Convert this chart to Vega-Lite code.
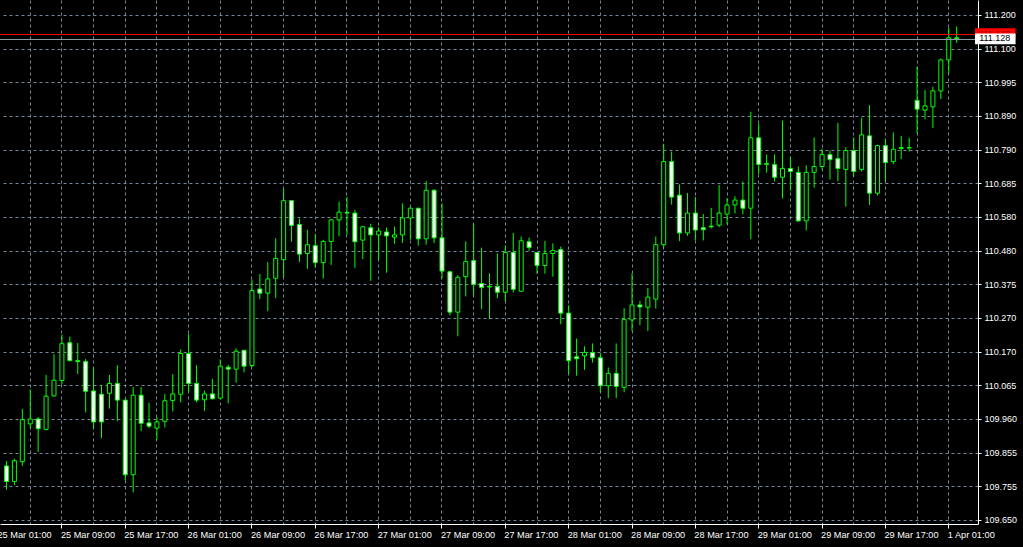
{
  "$schema": "https://vega.github.io/schema/vega-lite/v6.json",
  "width": 978,
  "height": 524,
  "autosize": {"type": "none"},
  "padding": {"left": 0, "top": 0, "right": 45, "bottom": 23},
  "background": "#000000",
  "config": {"view": {"stroke": null}},
  "data": {"values": [
    {"i":1,"o":109.816,"h":109.831,"l":109.743,"c":109.768},
    {"i":2,"o":109.768,"h":109.838,"l":109.757,"c":109.832},
    {"i":3,"o":109.829,"h":109.991,"l":109.816,"c":109.958},
    {"i":4,"o":109.945,"h":110.051,"l":109.932,"c":109.960},
    {"i":5,"o":109.960,"h":109.966,"l":109.859,"c":109.930},
    {"i":6,"o":109.928,"h":110.095,"l":109.925,"c":110.030},
    {"i":7,"o":110.031,"h":110.159,"l":110.029,"c":110.079},
    {"i":8,"o":110.078,"h":110.219,"l":110.066,"c":110.191},
    {"i":9,"o":110.194,"h":110.213,"l":110.137,"c":110.139},
    {"i":10,"o":110.139,"h":110.193,"l":110.098,"c":110.136},
    {"i":11,"o":110.136,"h":110.144,"l":109.980,"c":110.045},
    {"i":12,"o":110.046,"h":110.118,"l":109.930,"c":109.951},
    {"i":13,"o":110.036,"h":110.063,"l":109.901,"c":109.951},
    {"i":14,"o":110.039,"h":110.095,"l":109.992,"c":110.069},
    {"i":15,"o":110.069,"h":110.125,"l":109.953,"c":110.018},
    {"i":16,"o":110.018,"h":110.019,"l":109.771,"c":109.789},
    {"i":17,"o":109.789,"h":110.058,"l":109.735,"c":110.033},
    {"i":18,"o":110.033,"h":110.058,"l":109.923,"c":109.947},
    {"i":19,"o":109.948,"h":110.010,"l":109.931,"c":109.938},
    {"i":20,"o":109.932,"h":109.966,"l":109.897,"c":109.951},
    {"i":21,"o":109.953,"h":110.037,"l":109.934,"c":110.016},
    {"i":22,"o":110.017,"h":110.098,"l":109.983,"c":110.037},
    {"i":23,"o":110.036,"h":110.174,"l":110.011,"c":110.161},
    {"i":24,"o":110.161,"h":110.221,"l":110.044,"c":110.069},
    {"i":25,"o":110.069,"h":110.125,"l":110.011,"c":110.018},
    {"i":26,"o":110.019,"h":110.047,"l":109.984,"c":110.037},
    {"i":27,"o":110.037,"h":110.083,"l":110.020,"c":110.022},
    {"i":28,"o":110.024,"h":110.143,"l":110.020,"c":110.122},
    {"i":29,"o":110.119,"h":110.126,"l":110.008,"c":110.113},
    {"i":30,"o":110.113,"h":110.177,"l":110.072,"c":110.168},
    {"i":31,"o":110.171,"h":110.172,"l":110.103,"c":110.122},
    {"i":32,"o":110.124,"h":110.388,"l":110.119,"c":110.354},
    {"i":33,"o":110.359,"h":110.405,"l":110.328,"c":110.346},
    {"i":34,"o":110.346,"h":110.442,"l":110.291,"c":110.390},
    {"i":35,"o":110.392,"h":110.515,"l":110.331,"c":110.453},
    {"i":36,"o":110.449,"h":110.666,"l":110.395,"c":110.630},
    {"i":37,"o":110.630,"h":110.631,"l":110.504,"c":110.554},
    {"i":38,"o":110.557,"h":110.575,"l":110.442,"c":110.466},
    {"i":39,"o":110.468,"h":110.541,"l":110.421,"c":110.495},
    {"i":40,"o":110.492,"h":110.528,"l":110.425,"c":110.440},
    {"i":41,"o":110.440,"h":110.510,"l":110.391,"c":110.505},
    {"i":42,"o":110.505,"h":110.574,"l":110.433,"c":110.571},
    {"i":43,"o":110.571,"h":110.627,"l":110.521,"c":110.595},
    {"i":44,"o":110.594,"h":110.642,"l":110.526,"c":110.592},
    {"i":45,"o":110.592,"h":110.602,"l":110.424,"c":110.504},
    {"i":46,"o":110.509,"h":110.552,"l":110.451,"c":110.550},
    {"i":47,"o":110.547,"h":110.559,"l":110.384,"c":110.525},
    {"i":48,"o":110.525,"h":110.548,"l":110.449,"c":110.537},
    {"i":49,"o":110.534,"h":110.548,"l":110.409,"c":110.522},
    {"i":50,"o":110.518,"h":110.551,"l":110.498,"c":110.525},
    {"i":51,"o":110.525,"h":110.622,"l":110.500,"c":110.577},
    {"i":52,"o":110.577,"h":110.610,"l":110.510,"c":110.607},
    {"i":53,"o":110.607,"h":110.608,"l":110.492,"c":110.513},
    {"i":54,"o":110.513,"h":110.690,"l":110.495,"c":110.662},
    {"i":55,"o":110.662,"h":110.665,"l":110.500,"c":110.516},
    {"i":56,"o":110.516,"h":110.622,"l":110.392,"c":110.414},
    {"i":57,"o":110.412,"h":110.413,"l":110.278,"c":110.288},
    {"i":58,"o":110.288,"h":110.401,"l":110.214,"c":110.395},
    {"i":59,"o":110.397,"h":110.505,"l":110.336,"c":110.443},
    {"i":60,"o":110.446,"h":110.559,"l":110.340,"c":110.373},
    {"i":61,"o":110.376,"h":110.486,"l":110.297,"c":110.364},
    {"i":62,"o":110.367,"h":110.407,"l":110.267,"c":110.365},
    {"i":63,"o":110.367,"h":110.468,"l":110.331,"c":110.349},
    {"i":64,"o":110.349,"h":110.493,"l":110.322,"c":110.471},
    {"i":65,"o":110.471,"h":110.531,"l":110.348,"c":110.358},
    {"i":66,"o":110.352,"h":110.520,"l":110.350,"c":110.507},
    {"i":67,"o":110.504,"h":110.517,"l":110.476,"c":110.486},
    {"i":68,"o":110.471,"h":110.472,"l":110.406,"c":110.431},
    {"i":69,"o":110.431,"h":110.507,"l":110.406,"c":110.468},
    {"i":70,"o":110.468,"h":110.499,"l":110.397,"c":110.477},
    {"i":71,"o":110.480,"h":110.489,"l":110.251,"c":110.285},
    {"i":72,"o":110.285,"h":110.309,"l":110.100,"c":110.139},
    {"i":73,"o":110.151,"h":110.207,"l":110.093,"c":110.145},
    {"i":74,"o":110.154,"h":110.183,"l":110.111,"c":110.164},
    {"i":75,"o":110.164,"h":110.192,"l":110.133,"c":110.148},
    {"i":76,"o":110.148,"h":110.162,"l":110.042,"c":110.062},
    {"i":77,"o":110.062,"h":110.118,"l":110.024,"c":110.100},
    {"i":78,"o":110.100,"h":110.192,"l":110.024,"c":110.060},
    {"i":79,"o":110.057,"h":110.300,"l":110.042,"c":110.265},
    {"i":80,"o":110.264,"h":110.407,"l":110.230,"c":110.310},
    {"i":81,"o":110.310,"h":110.322,"l":110.248,"c":110.304},
    {"i":82,"o":110.303,"h":110.362,"l":110.230,"c":110.334},
    {"i":83,"o":110.328,"h":110.520,"l":110.299,"c":110.495},
    {"i":84,"o":110.495,"h":110.805,"l":110.486,"c":110.750},
    {"i":85,"o":110.750,"h":110.781,"l":110.618,"c":110.641},
    {"i":86,"o":110.647,"h":110.680,"l":110.506,"c":110.531},
    {"i":87,"o":110.531,"h":110.654,"l":110.522,"c":110.592},
    {"i":88,"o":110.592,"h":110.642,"l":110.508,"c":110.540},
    {"i":89,"o":110.547,"h":110.589,"l":110.508,"c":110.541},
    {"i":90,"o":110.552,"h":110.608,"l":110.545,"c":110.550},
    {"i":91,"o":110.555,"h":110.678,"l":110.549,"c":110.592},
    {"i":92,"o":110.589,"h":110.638,"l":110.557,"c":110.617},
    {"i":93,"o":110.617,"h":110.644,"l":110.591,"c":110.632},
    {"i":94,"o":110.632,"h":110.689,"l":110.588,"c":110.607},
    {"i":95,"o":110.607,"h":110.903,"l":110.512,"c":110.823},
    {"i":96,"o":110.823,"h":110.867,"l":110.712,"c":110.741},
    {"i":97,"o":110.744,"h":110.772,"l":110.716,"c":110.742},
    {"i":98,"o":110.741,"h":110.772,"l":110.689,"c":110.702},
    {"i":99,"o":110.702,"h":110.876,"l":110.637,"c":110.729},
    {"i":100,"o":110.729,"h":110.765,"l":110.661,"c":110.720},
    {"i":101,"o":110.717,"h":110.735,"l":110.565,"c":110.568},
    {"i":102,"o":110.568,"h":110.739,"l":110.539,"c":110.717},
    {"i":103,"o":110.717,"h":110.824,"l":110.670,"c":110.735},
    {"i":104,"o":110.735,"h":110.790,"l":110.726,"c":110.772},
    {"i":105,"o":110.772,"h":110.784,"l":110.695,"c":110.756},
    {"i":106,"o":110.759,"h":110.869,"l":110.689,"c":110.729},
    {"i":107,"o":110.726,"h":110.794,"l":110.612,"c":110.784},
    {"i":108,"o":110.784,"h":110.824,"l":110.705,"c":110.720},
    {"i":109,"o":110.726,"h":110.885,"l":110.719,"c":110.832},
    {"i":110,"o":110.829,"h":110.923,"l":110.617,"c":110.653},
    {"i":111,"o":110.653,"h":110.802,"l":110.646,"c":110.799},
    {"i":112,"o":110.799,"h":110.820,"l":110.689,"c":110.747},
    {"i":113,"o":110.750,"h":110.840,"l":110.742,"c":110.788},
    {"i":114,"o":110.790,"h":110.829,"l":110.758,"c":110.793},
    {"i":115,"o":110.792,"h":110.823,"l":110.781,"c":110.793},
    {"i":116,"o":110.938,"h":111.041,"l":110.836,"c":110.911},
    {"i":117,"o":110.908,"h":110.970,"l":110.880,"c":110.921},
    {"i":118,"o":110.918,"h":110.980,"l":110.853,"c":110.967},
    {"i":119,"o":110.967,"h":111.066,"l":110.942,"c":111.062},
    {"i":120,"o":111.062,"h":111.161,"l":111.021,"c":111.130},
    {"i":121,"o":111.130,"h":111.165,"l":111.114,"c":111.128}
  ]},
  "layer": [
    {
      "mark": {"type": "rule", "color": "#00ff00", "strokeWidth": 1, "xOffset": 0.5},
      "encoding": {
        "x": {
          "field": "i", "type": "quantitative",
          "scale": {"domain": [0.875, 123.125], "nice": false, "zero": false},
          "axis": {
            "title": null,
            "tickCount": 60,
            "values": [0.875,4,8,12,16,20,24,28,32,36,40,44,48,52,56,60,64,68,72,76,80,84,88,92,96,100,104,108,112,116,120],
            "grid": true, "gridColor": "#778899", "gridDash": [3, 3], "gridWidth": 1,
            "gridOpacity": {"condition": {"test": "datum.value < 1", "value": 0}, "value": 1},
            "domain": true, "domainColor": "#ffffff", "domainWidth": 1,
            "ticks": true, "tickColor": "#ffffff", "tickSize": 4, "tickWidth": 1,
            "tickOpacity": {"condition": {"test": "datum.value % 8 === 0", "value": 1}, "value": 0},
            "labelExpr": "datum.value < 1 ? '25 Mar 01:00' : (datum.value % 8 === 0 ? ['25 Mar 01:00','25 Mar 09:00','25 Mar 17:00','26 Mar 01:00','26 Mar 09:00','26 Mar 17:00','27 Mar 01:00','27 Mar 09:00','27 Mar 17:00','28 Mar 01:00','28 Mar 09:00','28 Mar 17:00','29 Mar 01:00','29 Mar 09:00','29 Mar 17:00','1 Apr 01:00'][datum.value / 8] : '')",
            "labelColor": "#ffffff", "labelFont": "Liberation Sans", "labelFontSize": 9.2,
            "labelAlign": "left", "labelBaseline": "top", "labelPadding": 2,
            "labelOffset": {"condition": {"test": "datum.value < 1", "value": -8}, "value": -1},
            "labelOverlap": false, "labelBound": false, "labelFlush": false
          }
        },
        "y": {
          "field": "l", "type": "quantitative",
          "scale": {"domain": [109.6377, 111.246], "nice": false, "zero": false},
          "axis": {
            "title": null, "orient": "right",
            "tickCount": 40,
            "values": [109.65, 109.753333, 109.856667, 109.96, 110.063333, 110.166667, 110.27, 110.373333, 110.476667, 110.58, 110.683333, 110.786667, 110.89, 110.993333, 111.096667, 111.2],
            "grid": true, "gridColor": "#778899", "gridDash": [3, 3], "gridWidth": 1,
            "domain": true, "domainColor": "#ffffff", "domainWidth": 1,
            "ticks": true, "tickColor": "#ffffff", "tickSize": 3, "tickWidth": 1,
            "labelExpr": "['109.650','109.755','109.855','109.960','110.065','110.170','110.270','110.375','110.480','110.580','110.685','110.790','110.890','110.995','111.100','111.200'][round((datum.value - 109.65) / 0.1033333)]",
            "labelColor": "#ffffff", "labelFont": "Liberation Sans", "labelFontSize": 9,
            "labelAlign": "left", "labelBaseline": "middle", "labelPadding": 3,
            "labelOverlap": false, "labelBound": false, "labelFlush": false
          }
        },
        "y2": {"field": "h"}
      }
    },
    {
      "mark": {"type": "bar", "width": 4, "stroke": "#00ff00", "strokeWidth": 1, "xOffset": 0.5},
      "encoding": {
        "x": {"field": "i", "type": "quantitative"},
        "y": {"field": "o", "type": "quantitative"},
        "y2": {"field": "c"},
        "fill": {"condition": {"test": "datum.c < datum.o", "value": "#ffffff"}, "value": "#000000"}
      }
    },
    {
      "data": {"values": [{"bid": 111.128}]},
      "mark": {"type": "rule", "color": "#8c99a6", "strokeWidth": 1, "yOffset": 1.06},
      "encoding": {"y": {"field": "bid", "type": "quantitative"}}
    },
    {
      "data": {"values": [{"ask": 111.143}]},
      "mark": {"type": "rule", "color": "#ff0000", "strokeWidth": 1, "yOffset": 0.94},
      "encoding": {"y": {"field": "ask", "type": "quantitative"}}
    },
    {
      "data": {"values": [{"ask": 111.143}]},
      "mark": {"type": "rect", "color": "#ff0000", "clip": false},
      "encoding": {
        "x": {"datum": 123.375}, "x2": {"datum": 128.5},
        "y": {"datum": 111.159}, "y2": {"datum": 111.127}
      }
    },
    {
      "data": {"values": [{"ask": 111.143}]},
      "mark": {"type": "text", "color": "#8b0000", "align": "left", "baseline": "middle", "font": "Liberation Sans", "fontSize": 9, "clip": false},
      "encoding": {
        "x": {"datum": 123.9}, "y": {"field": "ask", "type": "quantitative"},
        "text": {"field": "ask", "type": "quantitative", "format": ".3f"}
      }
    },
    {
      "data": {"values": [{"bid": 111.128}]},
      "mark": {"type": "rect", "color": "#ffffff", "clip": false},
      "encoding": {
        "x": {"datum": 123.375}, "x2": {"datum": 128.5},
        "y": {"datum": 111.1435}, "y2": {"datum": 111.110}
      }
    },
    {
      "data": {"values": [{"bid": 111.128}]},
      "mark": {"type": "text", "color": "#000000", "align": "left", "baseline": "middle", "font": "Liberation Sans", "fontSize": 9, "clip": false},
      "encoding": {
        "x": {"datum": 123.9}, "y": {"field": "bid", "type": "quantitative"},
        "text": {"field": "bid", "type": "quantitative", "format": ".3f"}
      }
    }
  ]
}
